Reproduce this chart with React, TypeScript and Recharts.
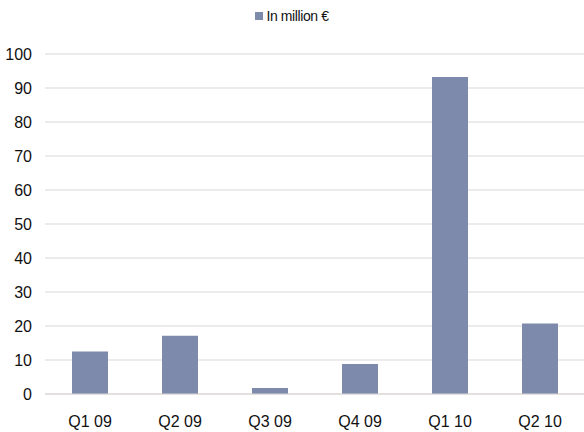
import { BarChart, Bar, XAxis, YAxis, CartesianGrid, Legend } from 'recharts';

const quarters = ['Q1 09', 'Q2 09', 'Q3 09', 'Q4 09', 'Q1 10', 'Q2 10'];
const amounts = [12.5, 17.1, 1.8, 8.8, 93.2, 20.7];
const yTicks = [0, 10, 20, 30, 40, 50, 60, 70, 80, 90, 100];

const SERIES_NAME = 'In million €';
const BAR_COLOR = '#7e8aab';
const GRID_COLOR = '#dad5d5';
const FONT = '"Liberation Sans", Arial, sans-serif';

const chartData = quarters.map((q, i) => ({ quarter: q, value: amounts[i] }));

const LegendContent = () => (
    <div style={{ display: 'flex', justifyContent: 'center', alignItems: 'center', gap: 3 }}>
        <span style={{ width: 8, height: 8, background: BAR_COLOR, display: 'inline-block' }} />
        <span style={{ fontSize: 14, color: '#111', fontFamily: FONT, letterSpacing: -0.4 }}>{SERIES_NAME}</span>
    </div>
);

export default function App() {
    return (
        <div style={{ position: 'fixed', top: 0, left: 0, width: 584, height: 432, background: '#fff', overflow: 'hidden' }}>
            <BarChart
                width={585}
                height={432}
                data={chartData}
                margin={{ top: 54, right: 0, bottom: 8, left: 0 }}
                barCategoryGap="30%"
            >
                <CartesianGrid vertical={false} stroke={GRID_COLOR} />
                <XAxis
                    dataKey="quarter"
                    height={30}
                    tickLine={false}
                    axisLine={{ stroke: GRID_COLOR }}
                    tickMargin={16}
                    tick={{ fill: '#111', fontSize: 16, fontFamily: FONT }}
                />
                <YAxis
                    width={45}
                    domain={[0, 100]}
                    ticks={yTicks}
                    interval={0}
                    tickLine={false}
                    axisLine={false}
                    tickMargin={7}
                    tick={{ fill: '#111', fontSize: 16, fontFamily: FONT }}
                />
                <Legend
                    layout="horizontal"
                    verticalAlign="middle"
                    align="center"
                    content={<LegendContent />}
                    wrapperStyle={{ top: 8, left: 0, width: 584 }}
                />
                <Bar dataKey="value" name={SERIES_NAME} fill={BAR_COLOR} isAnimationActive={false} />
            </BarChart>
        </div>
    );
}
